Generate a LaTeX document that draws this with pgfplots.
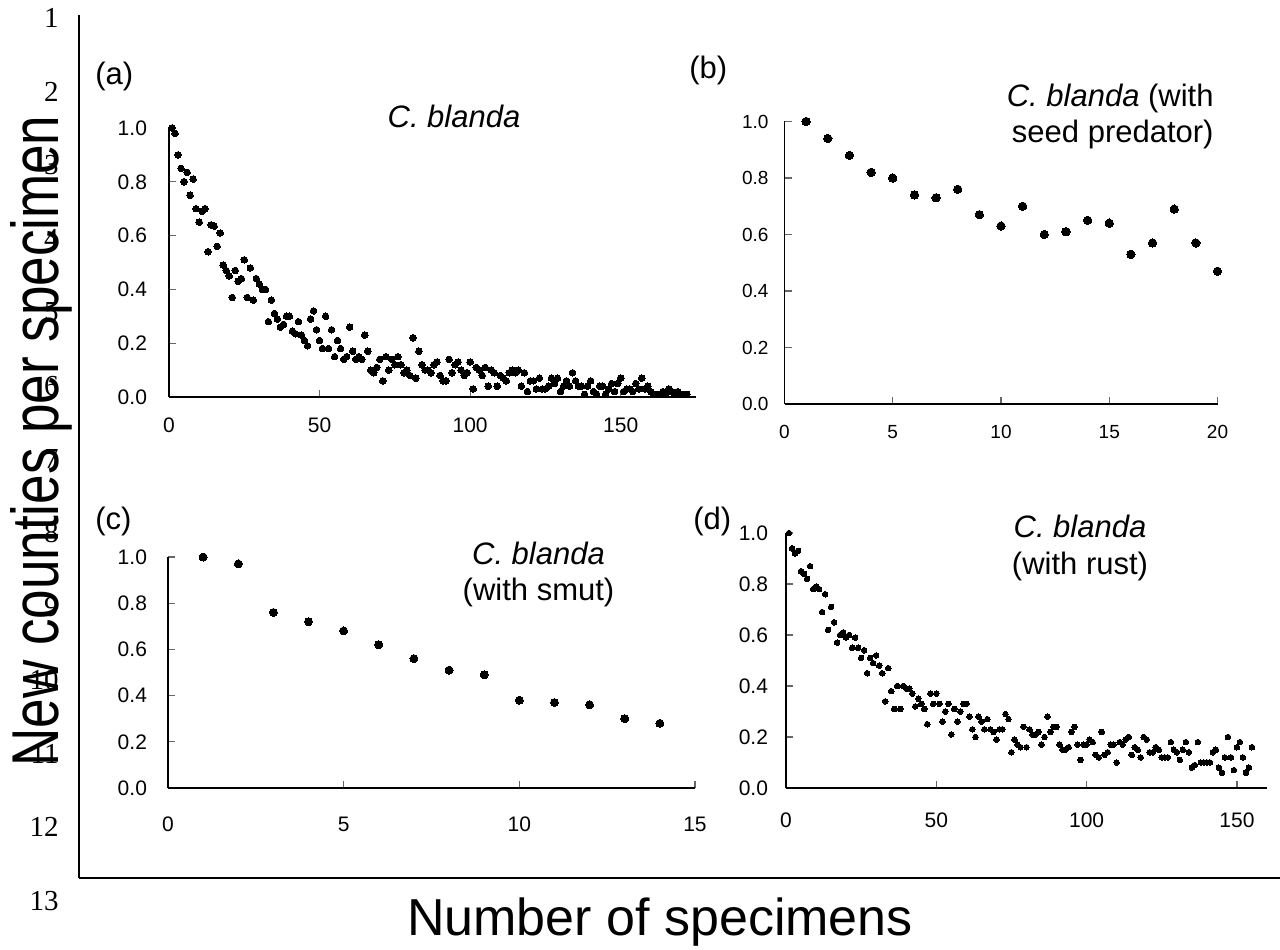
\documentclass[border=0pt]{standalone}
\usepackage{fontspec}
\setmainfont{Liberation Sans}
\newfontfamily\numfont{Liberation Serif}
\usepackage{pgfplots}
\usepackage{pgfplotstable}
\pgfplotsset{compat=1.18}

\pgfplotstableread{
x y
1 1.00
2 0.98
3 0.90
4 0.85
5 0.80
6 0.835
7 0.75
8 0.81
9 0.70
10 0.65
11 0.69
12 0.70
13 0.54
14 0.64
15 0.635
16 0.56
17 0.61
18 0.49
19 0.47
20 0.45
21 0.37
22 0.47
23 0.43
24 0.44
25 0.51
26 0.37
27 0.48
28 0.36
29 0.44
30 0.42
31 0.40
32 0.40
33 0.28
34 0.36
35 0.31
36 0.29
37 0.26
38 0.27
39 0.30
40 0.30
41 0.245
42 0.235
43 0.28
44 0.23
45 0.21
46 0.19
47 0.29
48 0.32
49 0.25
50 0.21
51 0.18
52 0.30
53 0.18
54 0.25
55 0.15
56 0.21
57 0.18
58 0.14
59 0.15
60 0.26
61 0.17
62 0.14
63 0.15
64 0.14
65 0.23
66 0.17
67 0.10
68 0.09
69 0.11
70 0.14
71 0.06
72 0.15
73 0.10
74 0.14
75 0.12
76 0.15
77 0.12
78 0.09
79 0.10
80 0.08
81 0.22
82 0.07
83 0.17
84 0.12
85 0.10
86 0.10
87 0.09
88 0.12
89 0.13
90 0.08
91 0.06
92 0.06
93 0.14
94 0.09
95 0.12
96 0.13
97 0.10
98 0.08
99 0.09
100 0.13
101 0.03
102 0.11
103 0.10
104 0.08
105 0.11
106 0.04
107 0.10
108 0.09
109 0.04
110 0.08
111 0.07
112 0.06
113 0.09
114 0.10
115 0.09
116 0.10
117 0.04
118 0.09
119 0.02
120 0.06
121 0.06
122 0.03
123 0.07
124 0.03
125 0.03
126 0.04
127 0.07
128 0.05
129 0.07
130 0.02
131 0.04
132 0.06
133 0.04
134 0.09
135 0.06
136 0.04
137 0.04
138 0.01
139 0.04
140 0.06
141 0.02
142 0.01
143 0.04
144 0.04
145 0.01
146 0.03
147 0.05
148 0.02
149 0.05
150 0.07
151 0.02
152 0.03
153 0.03
154 0.02
155 0.05
156 0.03
157 0.07
158 0.03
159 0.04
160 0.02
161 0.01
162 0.01
163 0.01
164 0.02
165 0.01
166 0.03
167 0.02
168 0.01
169 0.02
170 0.01
171 0.01
172 0.01
}\dataA

\pgfplotstableread{
x y
1 1.00
2 0.94
3 0.88
4 0.82
5 0.80
6 0.74
7 0.73
8 0.76
9 0.67
10 0.63
11 0.70
12 0.60
13 0.61
14 0.65
15 0.64
16 0.53
17 0.57
18 0.69
19 0.57
20 0.47
}\dataB

\pgfplotstableread{
x y
1 1.00
2 0.97
3 0.76
4 0.72
5 0.68
6 0.62
7 0.56
8 0.51
9 0.49
10 0.38
11 0.37
12 0.36
13 0.30
14 0.28
}\dataC

\pgfplotstableread{
x y
1 1.00
2 0.94
3 0.92
4 0.93
5 0.85
6 0.84
7 0.82
8 0.87
9 0.78
10 0.79
11 0.78
12 0.69
13 0.76
14 0.62
15 0.71
16 0.65
17 0.57
18 0.60
19 0.61
20 0.59
21 0.60
22 0.55
23 0.59
24 0.55
25 0.51
26 0.54
27 0.45
28 0.51
29 0.49
30 0.52
31 0.48
32 0.45
33 0.34
34 0.47
35 0.38
36 0.31
37 0.40
38 0.31
39 0.40
40 0.39
41 0.39
42 0.37
43 0.32
44 0.35
45 0.33
46 0.31
47 0.25
48 0.37
49 0.33
50 0.37
51 0.33
52 0.26
53 0.30
54 0.33
55 0.21
56 0.31
57 0.26
58 0.30
59 0.33
60 0.33
61 0.28
62 0.23
63 0.20
64 0.28
65 0.26
66 0.23
67 0.27
68 0.23
69 0.22
70 0.19
71 0.23
72 0.23
73 0.29
74 0.27
75 0.14
76 0.19
77 0.17
78 0.16
79 0.24
80 0.16
81 0.23
82 0.21
83 0.21
84 0.22
85 0.17
86 0.20
87 0.28
88 0.22
89 0.24
90 0.24
91 0.17
92 0.15
93 0.15
94 0.16
95 0.22
96 0.24
97 0.17
98 0.11
99 0.17
100 0.17
101 0.19
102 0.18
103 0.13
104 0.12
105 0.22
106 0.13
107 0.14
108 0.17
109 0.17
110 0.10
111 0.18
112 0.17
113 0.19
114 0.20
115 0.13
116 0.16
117 0.15
118 0.12
119 0.20
120 0.19
121 0.14
122 0.14
123 0.16
124 0.15
125 0.12
126 0.12
127 0.12
128 0.18
129 0.15
130 0.14
131 0.11
132 0.15
133 0.18
134 0.14
135 0.08
136 0.09
137 0.18
138 0.10
139 0.10
140 0.10
141 0.10
142 0.14
143 0.15
144 0.08
145 0.06
146 0.12
147 0.20
148 0.12
149 0.07
150 0.16
151 0.18
152 0.12
153 0.06
154 0.08
155 0.16
}\dataD

\pgfplotsset{
  panel/.style={
    scale only axis, anchor=south west,
    axis x line=bottom, axis y line=left,
    axis line style={-, line width=0.7pt, black},
    tick align=inside, major tick length=3.5pt,
    every tick/.style={line width=0.6pt, black!60},
    xmin=0, ymin=0, ymax=1,
    ytick={0,0.2,0.4,0.6,0.8,1.0},
    yticklabel style={/pgf/number format/fixed, /pgf/number format/fixed zerofill, /pgf/number format/precision=1},
    /pgf/number format/assume math mode=true,
    tick label style={font=\fontsize{10.5}{12}\selectfont},
    clip=false,
  },
  dots/.style={only marks, mark=*, black, mark options={fill=black, draw=black, line width=0pt}},
}

\begin{document}
\begin{tikzpicture}
% outer frame axis
\begin{axis}[at={(39.5pt,35.5pt)}, anchor=south west, scale only axis,
  width=600.5pt, height=431.5pt, xmin=0, xmax=1, ymin=0, ymax=1,
  axis x line=bottom, axis y line=left,
  axis line style={-, line width=1.25pt, black},
  xtick=\empty, ytick=\empty]
\addplot[draw=none] coordinates {(0,0)};
\end{axis}

% line numbers
\foreach \i in {1,...,13} {
  \node[anchor=base east, inner sep=0pt, font=\numfont\fontsize{14.5}{16}\selectfont]
    at (29.5pt, {(921-73.5*(\i-1))*0.5pt}) {\i};
}

% axis labels
\node[rotate=90, yscale=1.25, anchor=base, inner sep=0pt, font=\fontsize{26.5}{30}\selectfont]
  at (29pt, 254pt) {New counties per specimen};
\node[anchor=base, inner sep=0pt, font=\fontsize{26}{30}\selectfont]
  at (330pt, 7pt) {Number of specimens};

% panel (a)
\begin{axis}[panel, at={(84.5pt,276pt)}, width=263.5pt, height=134.5pt,
  xmax=175, xtick={0,50,100,150},
  xticklabel style={yshift=-7pt}, yticklabel style={xshift=-7.5pt}]
\addplot[dots, mark size=1.65pt] table {\dataA};
\end{axis}

% panel (b)
\begin{axis}[panel, at={(392.25pt,272.5pt)}, width=216.5pt, height=141.25pt,
  xmax=20, xtick={0,5,10,15,20},
  tick label style={font=\fontsize{9.5}{11}\selectfont},
  xticklabel style={yshift=-7pt}, yticklabel style={xshift=-4.5pt}]
\addplot[dots, mark size=2.1pt] table {\dataB};
\end{axis}

% panel (c)
\begin{axis}[panel, at={(84pt,80.5pt)}, width=263.5pt, height=115.5pt,
  xmax=15, xtick={0,5,10,15},
  xticklabel style={yshift=-11pt}, yticklabel style={xshift=-7pt}]
\addplot[dots, mark size=2pt] table {\dataC};
\end{axis}

% panel (d)
\begin{axis}[panel, at={(393pt,80.5pt)}, width=240.5pt, height=127.5pt,
  xmax=160, xtick={0,50,100,150},
  xticklabel style={yshift=-9pt}, yticklabel style={xshift=-5.5pt}]
\addplot[dots, mark size=1.4pt] table {\dataD};
\end{axis}

% panel letters and titles
\begin{scope}[every node/.style={inner sep=0pt, font=\fontsize{15.5}{18}\selectfont}]
\node[anchor=base west] at (47.5pt,432pt) {(a)};
\node[anchor=base west] at (344.5pt,435pt) {(b)};
\node[anchor=base west] at (47.5pt,209.5pt) {(c)};
\node[anchor=base west] at (346.5pt,209.5pt) {(d)};
\node[anchor=base] at (227pt,410.5pt) {\itshape C. blanda};
\node[anchor=base east] at (607pt,421pt) {\textit{C. blanda} (with};
\node[anchor=base east] at (607pt,403pt) {seed predator)};
\node[anchor=base] at (269.25pt,192pt) {\textit{C. blanda}};
\node[anchor=base] at (269.25pt,174.5pt) {(with smut)};
\node[anchor=base] at (540pt,205.5pt) {\textit{C. blanda}};
\node[anchor=base] at (540pt,187pt) {(with rust)};
\end{scope}

\pgfresetboundingbox
\path[use as bounding box] (0,0) rectangle (640pt,474.5pt);
\end{tikzpicture}
\end{document}
